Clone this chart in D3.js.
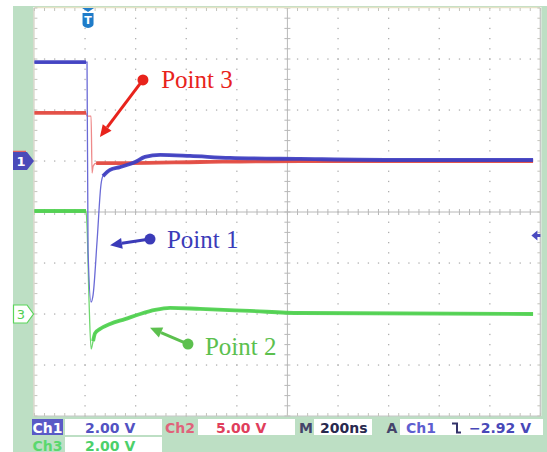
<!DOCTYPE html>
<html><head><meta charset="utf-8">
<script src="https://cdn.jsdelivr.net/npm/d3@7/dist/d3.min.js"></script>
<style>html,body{margin:0;padding:0;background:#fff;}svg{display:block}</style>
</head><body>
<script>
// ---- scope settings ----
const nsPerDiv = 200;          // M 200ns
const tStart = -212;           // ns at left edge (trigger at t = 0)
const ch1VoltsPerDiv = 2, ch2VoltsPerDiv = 5, ch3VoltsPerDiv = 2;
const ch1Offset = 1, ch2Offset = 1, ch3Offset = -2;   // ground marker in divisions
const triggerLevel = -2.92;    // V on Ch1

// ---- traces: time (ns), volts ----
const ch1T = [-212, -8, -4, 0, 12, 20, 36, 51, 59, 87, 126, 186, 225, 285, 403, 561, 838, 1233, 1759];
const ch1V = [3.88, 3.88, 3.88, -3.49, -5.53, -5.25, -3.1, -0.94, -0.59, -0.35, -0.24, -0.04, 0.16, 0.24, 0.2, 0.12, 0.08, 0.04, 0.04];
const ch2T = [-212, -8, -4, 12, 16, 20, 32, 166, 443, 838, 1759];
const ch2V = [4.71, 4.71, 4.4, 4.4, -1.18, -0.5, -0.2, -0.2, -0.1, 0, 0];
const ch3T = [-212, -8, -4, 4, 12, 20, 28, 47, 87, 146, 206, 265, 324, 443, 640, 838, 1759];
const ch3V = [4.04, 4.04, 3.45, 0.51, -1.37, -1.06, -0.75, -0.59, -0.39, -0.2, 0, 0.16, 0.24, 0.2, 0.12, 0.04, 0];

// ---- annotations (t in ns, y in divisions) ----
const annLabels = ["Point 3", "Point 1", "Point 2"];
const annDot  = [[217, 2.59], [245, -0.53], [395, -2.59]];
const annTip  = [[47, 1.47], [87, -0.65], [245, -2.27]];
const annText = [[289, 2.43], [312, -0.71], [462, -2.80]];

// ---- status bar texts ----
const statusRow1 = ["Ch1", "2.00 V", "Ch2", "5.00 V", "M", "200ns", "A", "Ch1", "\u22122.92 V"];
const statusRow2 = ["Ch3", "2.00 V"];

const W = 547, H = 452;
const plot = {l: 34.4, r: 540.4, t: 8, b: 416};
const svg = d3.select("body").append("svg").attr("width", W).attr("height", H);

const x = d3.scaleLinear().domain([tStart, tStart + 10 * nsPerDiv]).range([plot.l, plot.r]);
const y = d3.scaleLinear().domain([-4, 4]).range([plot.b, plot.t]);
const xd = d3.scaleLinear().domain([0, 10]).range([plot.l, plot.r]);

// background panel
svg.append("rect").attr("x", 13).attr("y", 6).attr("width", W - 13).attr("height", H - 6).attr("fill", "#bddfc4");
svg.append("rect").attr("x", plot.l - 1).attr("y", plot.t - 1).attr("width", plot.r - plot.l + 2).attr("height", plot.b - plot.t + 1).attr("fill", "#fff");

const g = svg.append("g");
const minorX = d3.range(0, 50.001, 1).map(i => xd(i / 5));
const minorY = d3.range(-20, 20.001, 1).map(i => y(i / 5));
const dotCol = "#b0b0b0";
// dotted grid
for (let i = 1; i < 10; i++) {
  if (i === 5) continue;
  minorY.forEach(py => g.append("rect").attr("x", xd(i) - 0.6).attr("y", py - 0.6).attr("width", 1.3).attr("height", 1.3).attr("fill", dotCol));
}
for (let j = -3; j <= 3; j++) {
  if (j === 0) continue;
  minorX.forEach(px => g.append("rect").attr("x", px - 0.6).attr("y", y(j) - 0.6).attr("width", 1.3).attr("height", 1.3).attr("fill", dotCol));
}
// center cross
const crossCol = "#b8b8b8";
g.append("line").attr("x1", plot.l).attr("x2", plot.r).attr("y1", y(0)).attr("y2", y(0)).attr("stroke", crossCol);
g.append("line").attr("x1", xd(5)).attr("x2", xd(5)).attr("y1", plot.t).attr("y2", plot.b).attr("stroke", crossCol);
minorX.forEach(px => g.append("line").attr("x1", px).attr("x2", px).attr("y1", y(0) - 3).attr("y2", y(0) + 3).attr("stroke", crossCol));
minorY.forEach(py => g.append("line").attr("x1", xd(5) - 3).attr("x2", xd(5) + 3).attr("y1", py).attr("y2", py).attr("stroke", crossCol));
// borders with ticks
const edgeCol = "#c4c4bc";
g.append("line").attr("x1", plot.l - 0.5).attr("x2", plot.l - 0.5).attr("y1", plot.t).attr("y2", plot.b).attr("stroke", "#d6d6c8").attr("stroke-width", 1.5);
g.append("line").attr("x1", plot.r).attr("x2", plot.r).attr("y1", plot.t).attr("y2", plot.b).attr("stroke", "#c8c8c8").attr("stroke-width", 1.5);
g.append("line").attr("x1", plot.l).attr("x2", plot.r).attr("y1", plot.t - 0.5).attr("y2", plot.t - 0.5).attr("stroke", "#e6e2c6").attr("stroke-width", 1.5);
g.append("line").attr("x1", plot.l).attr("x2", plot.r).attr("y1", plot.b).attr("y2", plot.b).attr("stroke", "#c8c8c8").attr("stroke-width", 1.2);
minorX.forEach(px => {
  g.append("line").attr("x1", px).attr("x2", px).attr("y1", plot.t).attr("y2", plot.t + 3).attr("stroke", edgeCol);
  g.append("line").attr("x1", px).attr("x2", px).attr("y1", plot.b - 3).attr("y2", plot.b).attr("stroke", edgeCol);
});
minorY.forEach(py => {
  g.append("line").attr("x1", plot.l).attr("x2", plot.l + 3).attr("y1", py).attr("y2", py).attr("stroke", edgeCol);
  g.append("line").attr("x1", plot.r - 3).attr("x2", plot.r).attr("y1", py).attr("y2", py).attr("stroke", edgeCol);
});

// traces
function trace(T, V, vpd, off, color, thinColor, tA, tB) {
  const pts = T.map((t, i) => [x(t), y(off + V[i] / vpd)]);
  const line = d3.line().curve(d3.curveMonotoneX);
  svg.append("path").attr("d", line(pts)).attr("fill", "none").attr("stroke", thinColor).attr("stroke-width", 1.3);
  const pre = pts.filter((p, i) => T[i] <= tA);
  const post = pts.filter((p, i) => T[i] >= tB);
  [pre, post].forEach(seg => svg.append("path").attr("d", line(seg)).attr("fill", "none")
    .attr("stroke", color).attr("stroke-width", 3.8).attr("stroke-linejoin", "round").attr("opacity", 0.92));
}
trace(ch3T, ch3V, ch3VoltsPerDiv, ch3Offset, "#4fd04f", "#6fd86f", -8, 20);
trace(ch2T, ch2V, ch2VoltsPerDiv, ch2Offset, "#e2483e", "#ee8a8a", -8, 32);
trace(ch1T, ch1V, ch1VoltsPerDiv, ch1Offset, "#3e3ec0", "#6a6ad6", -8, 59);

// annotations
const annColors = ["#e8231c", "#3b3bb8", "#5cc04e"];
annLabels.forEach((lab, i) => {
  const c = annColors[i];
  const d0 = [x(annDot[i][0]), y(annDot[i][1])];
  const d1 = [x(annTip[i][0]), y(annTip[i][1])];
  const ang = Math.atan2(d1[1] - d0[1], d1[0] - d0[0]);
  const L = 12, Wd = 5.5;
  const base = [d1[0] - L * Math.cos(ang), d1[1] - L * Math.sin(ang)];
  svg.append("line").attr("x1", d0[0]).attr("y1", d0[1]).attr("x2", base[0]).attr("y2", base[1]).attr("stroke", c).attr("stroke-width", 3);
  const nx = -Math.sin(ang), ny = Math.cos(ang);
  svg.append("path").attr("d", `M${d1[0]},${d1[1]}L${base[0] + nx * Wd},${base[1] + ny * Wd}L${base[0] - nx * Wd},${base[1] - ny * Wd}Z`).attr("fill", c);
  svg.append("circle").attr("cx", d0[0]).attr("cy", d0[1]).attr("r", 5.5).attr("fill", c);
  svg.append("text").attr("x", x(annText[i][0])).attr("y", y(annText[i][1]))
    .attr("font-family", "'Liberation Serif', 'Times New Roman', serif").attr("font-size", 25).attr("fill", c).text(lab);
});

// trigger marker (top)
const tx = x(0);
svg.append("path").attr("d", `M${tx - 6},${plot.t}H${tx + 6}L${tx},${plot.t + 4}Z`).attr("fill", "#1f7cc9");
svg.append("path").attr("d", `M${tx - 5.5},${plot.t + 5}H${tx + 5.5}V${plot.t + 16}Q${tx + 5.5},${plot.t + 19} ${tx},${plot.t + 20}Q${tx - 5.5},${plot.t + 19} ${tx - 5.5},${plot.t + 16}Z`).attr("fill", "#1f7cc9");
svg.append("text").attr("x", tx).attr("y", plot.t + 16).attr("text-anchor", "middle").attr("font-family", "DejaVu Sans").attr("font-weight", "bold").attr("font-size", 11).attr("fill", "#fff").text("T");

// channel markers (left)
const m1 = y(ch1Offset), m3 = y(ch3Offset);
svg.append("line").attr("x1", 13).attr("x2", 26).attr("y1", y(ch2Offset) - 9.5).attr("y2", y(ch2Offset) - 9.5).attr("stroke", "#e06060").attr("stroke-width", 1.5);
svg.append("path").attr("d", `M13,${m1 - 9}H27L34,${m1}L27,${m1 + 9}H13Z`).attr("fill", "#4b4bb9");
svg.append("text").attr("x", 21).attr("y", m1 + 5).attr("text-anchor", "middle").attr("font-family", "DejaVu Sans").attr("font-weight", "bold").attr("font-size", 13).attr("fill", "#fff").text("1");
svg.append("path").attr("d", `M13.5,${m3 - 9}H27L33.5,${m3}L27,${m3 + 9}H13.5Z`).attr("fill", "#fff").attr("stroke", "#5ad65a").attr("stroke-width", 1.2);
svg.append("text").attr("x", 21).attr("y", m3 + 5).attr("text-anchor", "middle").attr("font-family", "DejaVu Sans").attr("font-size", 13).attr("fill", "#4fcf4f").text("3");

// trigger level marker (right)
const ty = y(ch1Offset + triggerLevel / ch1VoltsPerDiv);
svg.append("path").attr("d", `M${plot.r - 9},${ty}L${plot.r - 3},${ty - 5}V${ty - 1.5}H${plot.r}V${ty + 1.5}H${plot.r - 3}V${ty + 5}Z`).attr("fill", "#4a4ac0");

// status bar
const r1y = 419, r1h = 16, r2y = 437, r2h = 15;
const boxes = [[65, r1y, 97, r1h], [198, r1y, 97, r1h], [314, r1y, 58, r1h], [400, r1y, 143, r1h], [65, r2y, 97, r2h]];
boxes.forEach(b => svg.append("rect").attr("x", b[0]).attr("y", b[1]).attr("width", b[2]).attr("height", b[3]).attr("fill", "#fff"));
svg.append("rect").attr("x", 32).attr("y", r1y).attr("width", 31).attr("height", r1h).attr("fill", "#5a5ac6");
const st = (txt, px, py, col, anchor) => svg.append("text").attr("x", px).attr("y", py).attr("text-anchor", anchor || "start")
  .attr("font-family", "DejaVu Sans").attr("font-weight", "bold").attr("font-size", 14).attr("fill", col).text(txt);
const b1 = r1y + 13.5, b2 = r2y + 13.5;
st(statusRow1[0], 47.5, b1, "#fff", "middle");
st(statusRow1[1], 85, b1, "#5252c2");
st(statusRow1[2], 180, b1, "#e0627a", "middle");
st(statusRow1[3], 216, b1, "#e03e5c");
st(statusRow1[4], 306, b1, "#44446a", "middle");
st(statusRow1[5], 320, b1, "#28284e");
st(statusRow1[6], 392, b1, "#44446a", "middle");
st(statusRow1[7], 406, b1, "#5e5ed0");
st(statusRow1[8], 469, b1, "#4848b8");
// falling-edge slope icon
svg.append("path").attr("d", `M452,${b1 - 9}H457V${b1}H461`).attr("fill", "none").attr("stroke", "#33336a").attr("stroke-width", 2);
st(statusRow2[0], 47.5, b2, "#5ad86e", "middle");
st(statusRow2[1], 85, b2, "#4cd06a");
</script>
</body></html>
